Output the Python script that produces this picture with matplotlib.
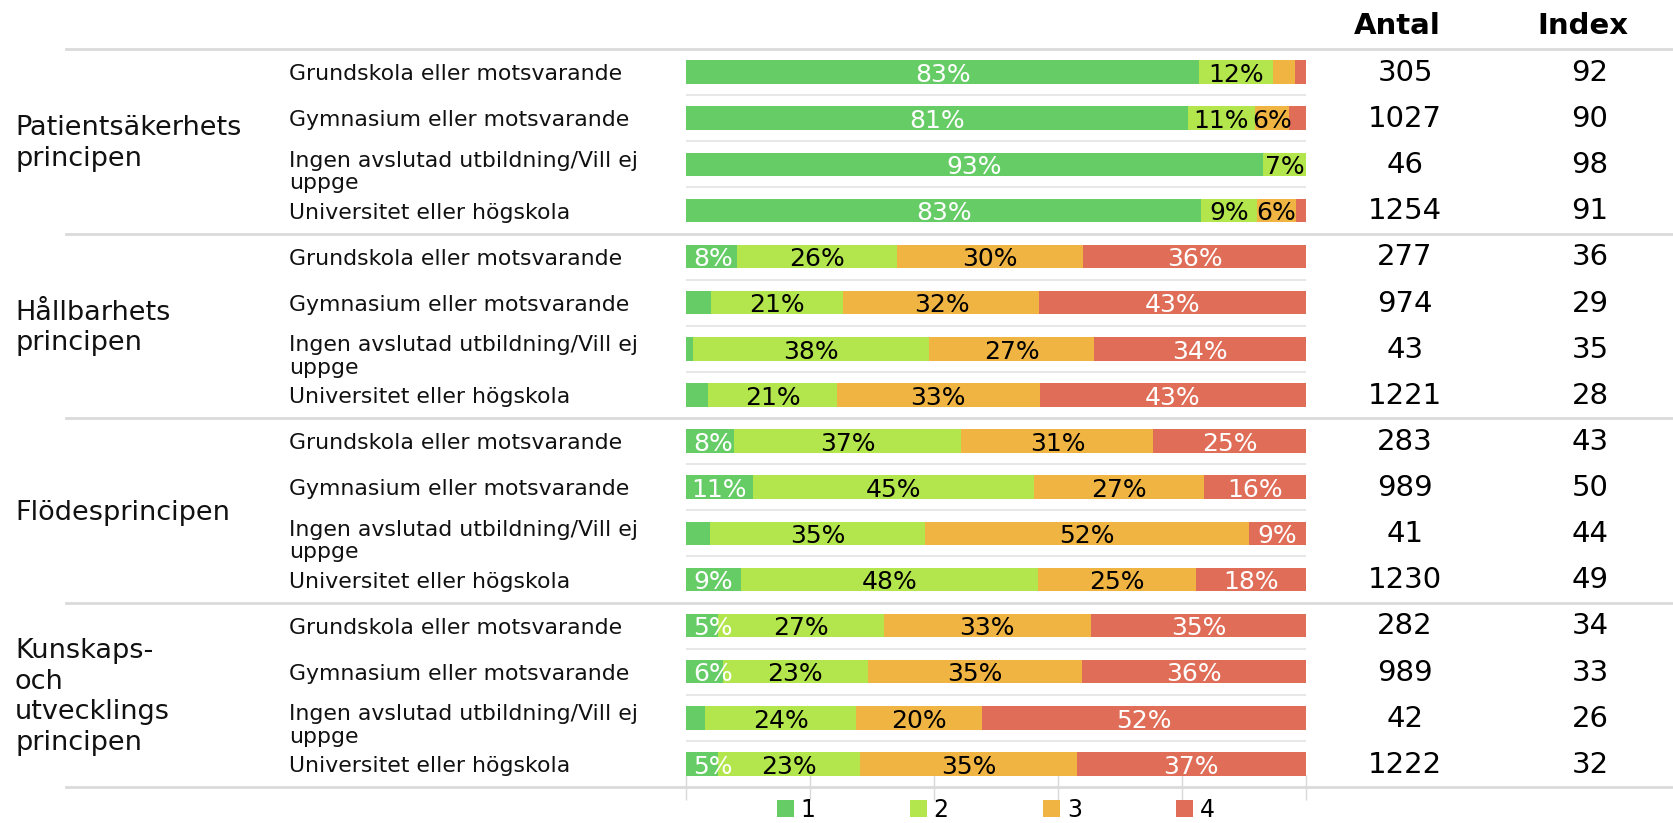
import numpy as np
import matplotlib
matplotlib.use("Agg")
import matplotlib.pyplot as plt
from matplotlib import font_manager
from matplotlib.transforms import blended_transform_factory

# ----------------- Data -----------------
groups = ["Patientsäkerhets\nprincipen", "Hållbarhets\nprincipen",
          "Flödesprincipen", "Kunskaps-\noch\nutvecklings\nprincipen"]
education = ["Grundskola eller motsvarande", "Gymnasium eller motsvarande",
             "Ingen avslutad utbildning/Vill ej\nuppge", "Universitet eller högskola"]

share_1 = [82.8, 80.9, 93.1, 83.1, 8.3, 4.0, 1.2, 3.6,
           7.8, 10.8, 3.9, 8.8, 5.1, 5.9, 3.1, 5.1]
share_2 = [11.8, 10.8, 6.9, 9.0, 25.7, 21.4, 38.0, 20.7,
           36.6, 45.4, 34.6, 48.0, 26.8, 23.4, 24.3, 23.0]
share_3 = [3.6, 5.6, 0.0, 6.3, 30.1, 31.6, 26.6, 32.8,
           31.0, 27.4, 52.3, 25.4, 33.4, 34.6, 20.3, 34.9]
share_4 = [1.8, 2.7, 0.0, 1.6, 35.9, 43.0, 34.2, 42.9,
           24.6, 16.4, 9.2, 17.8, 34.7, 36.1, 52.3, 37.0]

antal = [305, 1027, 46, 1254, 277, 974, 43, 1221,
         283, 989, 41, 1230, 282, 989, 42, 1222]
index = [92, 90, 98, 91, 36, 29, 35, 28,
         43, 50, 44, 49, 34, 33, 26, 32]

legend_labels = ["1", "2", "3", "4"]
colors = ["#66CC66", "#B3E64C", "#F0B443", "#E06D57"]
text_colors = ["white", "black", "black", "white"]

# ----------------- Fonts -----------------
available = {f.name for f in font_manager.fontManager.ttflist}
if "Liberation Sans Narrow" in available:
    pct_family, pct_size = "Liberation Sans Narrow", 22
else:
    pct_family, pct_size = "DejaVu Sans", 18
plt.rcParams["font.family"] = ["DejaVu Sans"]

# ----------------- Figure -----------------
W, H = 1673, 823
fig = plt.figure(figsize=(W / 100, H / 100), dpi=100)
bar_left, bar_right = 686 / W, 1306 / W
rows_top, rows_bottom = 49 / H, 787 / H
ax = fig.add_axes([bar_left, 1 - rows_bottom, bar_right - bar_left, rows_bottom - rows_top])

n = len(antal)
y = np.arange(n)
shares = [share_1, share_2, share_3, share_4]
left = np.zeros(n)
handles = []
for k, vals in enumerate(shares):
    vals = np.array(vals)
    h = ax.barh(y, vals, left=left, height=0.51, color=colors[k], label=legend_labels[k], zorder=3)
    handles.append(h)
    for i in range(n):
        if vals[i] >= 5:
            label = f"{int(round(vals[i]))}%"
            if k == 0 and vals[i] < 9:
                # small first segment: label starts at the bar's left edge
                ax.text(1.2, y[i] + 0.06, label, ha="left", va="center", color=text_colors[k],
                        family=pct_family, fontsize=pct_size, zorder=4)
            else:
                ax.text(left[i] + vals[i] / 2, y[i] + 0.06, label,
                        ha="center", va="center", color=text_colors[k],
                        family=pct_family, fontsize=pct_size, zorder=4)
    left += vals

ax.set_xlim(0, 100)
ax.set_ylim(n - 0.5, -0.5)
ax.set_yticks([])
ax.set_xticks([0, 20, 40, 60, 80, 100])
ax.set_xticklabels([])
ax.tick_params(axis="x", direction="inout", length=18, color="#d9d9d9", width=1)
for s in ax.spines.values():
    s.set_visible(False)

# light lines between rows (bar area only)
for b in np.arange(0.5, n - 0.5, 1.0):
    if (b + 0.5) % 4 != 0:
        ax.axhline(b, color="#e3e3e3", lw=1.2, zorder=1)

# group separators across the whole table
tr = blended_transform_factory(fig.transFigure, ax.transData)
for b in [-0.5, 3.5, 7.5, 11.5, 15.5]:
    ax.plot([66 / W, 1.0], [b, b], transform=tr, color="#dadada", lw=2, clip_on=False, zorder=2)

# row labels
for i in range(n):
    lab = education[i % 4]
    dy = 0.17 if "\n" in lab else 0.05
    ax.text(289 / W, y[i] + dy, lab, transform=tr, ha="left", va="center",
            fontsize=15.8, linespacing=1.15, color="#111111")
    ax.text(1405 / W, y[i] + 0.02, str(antal[i]), transform=tr, ha="center", va="center",
            fontsize=21, color="black")
    ax.text(1590 / W, y[i] + 0.02, str(index[i]), transform=tr, ha="center", va="center",
            fontsize=21, color="black")

# group labels
for g, name in enumerate(groups):
    ax.text(15 / W, g * 4 + 1.55, name, transform=tr, ha="left", va="center",
            fontsize=19.5, linespacing=1.22, color="#111111")

# headers
ax.text(1397 / W, -0.99, "Antal", transform=tr, ha="center", va="center",
        fontsize=21, fontweight="bold")
ax.text(1583 / W, -0.99, "Index", transform=tr, ha="center", va="center",
        fontsize=21, fontweight="bold")

fig.legend(handles=handles, labels=legend_labels, loc="center", ncol=4,
           bbox_to_anchor=((bar_left + bar_right) / 2, 0.016), frameon=False,
           fontsize=17, handlelength=0.7, handleheight=0.7, handletextpad=0.3,
           columnspacing=4.0, borderaxespad=0)

fig.savefig("out.png", dpi=100)
